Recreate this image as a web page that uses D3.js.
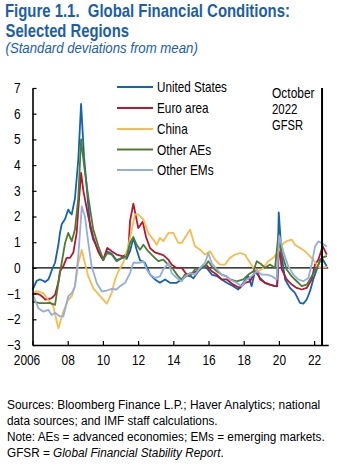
<!DOCTYPE html>
<html><head><meta charset="utf-8">
<script src="https://cdn.jsdelivr.net/npm/d3@7"></script>
<style>
html,body{margin:0;padding:0;background:#fff;}
svg{display:block;font-family:'Liberation Sans Narrow','Arial Narrow','Liberation Sans',Arial,sans-serif;}
</style></head><body>
<svg id="c" width="337" height="468"></svg>
<script>
const seriesNames = ["United States", "Euro area", "China", "Other AEs", "Other EMs"];
const seriesColors = ["#1363b3", "#b5182f", "#f8bb4c", "#4e7d31", "#93addf"];

const usDates = [2006.00,2006.24,2006.43,2006.61,2006.71,2006.90,2006.99,2007.09,2007.28,2007.47,2007.56,2007.66,2007.85,2008.03,2008.13,2008.23,2008.41,2008.60,2008.76,2008.93,2009.10,2009.27,2009.45,2009.55,2009.84,2010.02,2010.22,2010.50,2010.78,2011.16,2011.35,2011.54,2011.73,2011.92,2012.11,2012.39,2012.68,2012.96,2013.24,2013.53,2013.81,2014.19,2014.57,2014.85,2015.14,2015.42,2015.70,2015.90,2016.18,2016.47,2016.75,2017.03,2017.41,2017.69,2017.98,2018.26,2018.45,2018.64,2018.93,2019.21,2019.49,2019.78,2019.90,2019.99,2020.16,2020.35,2020.63,2020.91,2021.20,2021.39,2021.58,2021.77,2021.95,2022.15,2022.34,2022.43,2022.52,2022.72];
const usValues = [-0.85,-0.5,-0.45,-0.5,-0.55,-0.45,-0.3,-0.1,0.2,0.9,1.36,1.7,1.9,2.27,2.15,2.08,2.7,4.2,6.38,4.3,3.0,1.6,1.1,0.97,0.5,0.3,0.65,0.55,0.3,0.4,0.35,0.65,1.17,0.7,0.3,0.2,-0.26,-0.45,-0.58,-0.45,-0.58,-0.58,-0.4,-0.26,-0.4,-0.13,0.06,0.0,-0.26,-0.32,-0.45,-0.58,-0.71,-0.84,-0.58,-0.32,-0.71,-0.13,-0.39,-0.58,-0.65,-0.71,-0.7,2.16,0.45,-0.45,-0.78,-0.97,-1.36,-1.39,-1.23,-0.9,-0.45,-0.06,0.32,0.35,0.3,0.06];

const euDates = [2006.00,2006.24,2006.43,2006.61,2006.71,2006.99,2007.09,2007.28,2007.47,2007.56,2007.75,2007.94,2008.13,2008.32,2008.51,2008.60,2008.76,2008.89,2009.17,2009.45,2009.74,2010.02,2010.25,2010.50,2010.78,2011.16,2011.44,2011.54,2011.73,2012.01,2012.26,2012.45,2012.68,2012.96,2013.43,2013.72,2013.91,2014.19,2014.48,2014.76,2015.05,2015.33,2015.61,2015.90,2016.18,2016.47,2016.75,2017.03,2017.41,2017.79,2018.07,2018.36,2018.64,2018.74,2018.93,2019.21,2019.49,2019.78,2019.90,2020.02,2020.16,2020.44,2020.73,2021.01,2021.30,2021.58,2021.86,2022.05,2022.24,2022.49,2022.72];
const euValues = [-1.0,-1.0,-1.05,-1.15,-1.23,-1.2,-1.17,-1.05,-0.55,-0.13,0.06,0.39,0.39,0.6,1.36,2.27,3.7,3.0,2.0,1.2,0.63,0.32,0.78,0.65,0.52,0.45,0.58,1.82,2.5,1.55,1.8,1.2,0.77,0.6,0.5,0.32,0.12,0.0,0.0,-0.26,-0.2,-0.13,0.03,0.1,-0.13,-0.26,-0.45,-0.45,-0.65,-0.78,-0.58,-0.52,-0.15,-0.07,-0.45,-0.58,-0.65,-0.71,-0.72,0.92,-0.06,-0.45,-0.65,-0.78,-0.84,-0.78,-0.45,0.13,0.32,0.84,0.52];

const cnDates = [2006.00,2006.24,2006.61,2006.90,2007.18,2007.47,2007.75,2008.03,2008.23,2008.41,2008.60,2008.80,2008.98,2009.17,2009.45,2009.84,2010.22,2010.50,2010.69,2010.88,2011.16,2011.44,2011.64,2011.82,2012.01,2012.30,2012.58,2012.86,2013.06,2013.24,2013.43,2013.72,2014.00,2014.28,2014.48,2014.66,2014.95,2015.23,2015.52,2015.80,2016.09,2016.37,2016.65,2016.94,2017.22,2017.51,2017.79,2018.07,2018.36,2018.55,2018.83,2019.11,2019.40,2019.68,2019.97,2020.25,2020.44,2020.73,2020.91,2021.20,2021.48,2021.67,2021.95,2022.15,2022.34,2022.52,2022.72];
const cnValues = [-0.98,-0.9,-0.98,-1.25,-1.5,-2.35,-1.7,-1.24,-1.1,-0.72,0.18,0.7,0.18,-0.33,-0.79,-1.1,-1.39,-0.97,-0.45,-0.13,0.2,0.84,1.5,2.08,2.08,1.88,1.36,1.1,0.9,1.17,1.04,1.36,1.36,0.97,0.97,1.17,1.49,0.84,0.71,0.52,0.65,0.32,0.13,0.13,0.39,0.52,0.58,0.52,0.2,0.0,-0.13,0.0,0.26,0.39,0.65,0.96,1.04,1.1,0.9,0.77,0.65,0.52,0.32,0.13,0.0,0.03,0.03];

const aeDates = [2006.00,2006.43,2006.81,2006.99,2007.28,2007.47,2007.66,2007.85,2008.03,2008.23,2008.41,2008.60,2008.76,2008.93,2009.10,2009.27,2009.45,2009.74,2010.02,2010.25,2010.50,2010.78,2011.07,2011.35,2011.54,2011.73,2011.92,2012.11,2012.30,2012.58,2012.86,2013.15,2013.43,2013.72,2014.00,2014.28,2014.48,2014.66,2014.95,2015.23,2015.52,2015.80,2015.99,2016.18,2016.47,2016.75,2017.03,2017.22,2017.60,2017.98,2018.26,2018.55,2018.74,2019.02,2019.21,2019.49,2019.78,2019.97,2020.16,2020.44,2020.73,2021.01,2021.30,2021.58,2021.86,2022.15,2022.43,2022.72];
const aeValues = [-1.31,-1.37,-1.37,-1.36,-1.44,-0.58,0.2,0.97,1.36,1.04,1.49,2.7,5.0,4.0,3.1,2.3,1.5,0.85,0.32,0.58,0.52,0.26,0.39,0.45,0.97,1.2,0.9,0.71,0.9,0.64,0.45,0.26,0.32,0.12,-0.06,-0.33,-0.45,-0.26,-0.33,-0.06,0.0,0.06,0.26,0.06,-0.13,-0.26,-0.33,-0.45,-0.52,-0.45,-0.26,-0.13,0.26,0.13,0.0,0.13,0.0,1.3,0.58,-0.06,-0.33,-0.52,-0.71,-0.65,-0.33,0.0,0.38,0.47];

const emDates = [2006.00,2006.33,2006.61,2006.90,2007.09,2007.28,2007.56,2007.75,2008.03,2008.23,2008.41,2008.60,2008.80,2008.98,2009.17,2009.36,2009.65,2009.93,2010.22,2010.50,2010.78,2010.97,2011.26,2011.54,2011.73,2012.11,2012.30,2012.49,2012.68,2012.96,2013.24,2013.43,2013.72,2013.91,2014.19,2014.48,2014.66,2014.95,2015.23,2015.52,2015.80,2015.99,2016.18,2016.47,2016.75,2017.03,2017.22,2017.60,2017.89,2018.17,2018.45,2018.74,2019.02,2019.31,2019.59,2019.88,2020.02,2020.25,2020.53,2020.82,2021.10,2021.39,2021.67,2021.86,2022.05,2022.24,2022.43,2022.72];
const emValues = [-1.0,-1.57,-1.7,-1.63,-1.83,-1.74,-1.89,-1.89,-1.11,-0.98,-0.72,0.45,2.39,2.0,0.97,0.06,-0.59,-0.91,-0.88,-0.82,-0.84,-0.71,-0.58,-0.2,0.2,0.2,0.26,-0.06,-0.26,-0.39,-0.33,-0.06,0.18,-0.2,-0.39,-0.52,-0.33,-0.2,-0.26,0.0,0.2,0.57,0.19,-0.06,-0.26,-0.33,-0.45,-0.58,-0.71,-0.45,-0.32,-0.13,-0.26,-0.26,-0.32,-0.45,1.25,0.64,0.06,-0.26,-0.45,-0.52,-0.39,0.13,0.83,1.03,0.97,0.83];

const xTickValues = [2006, 2008, 2010, 2012, 2014, 2016, 2018, 2020, 2022];
const xTickLabels = ["2006", "08", "10", "12", "14", "16", "18", "20", "22"];
const yTickValues = [-3, -2, -1, 0, 1, 2, 3, 4, 5, 6, 7];
const gfsrLineYear = 2022.45;
const gfsrLabel = ["October", "2022", "GFSR"];

const titleLines = ["Figure 1.1.  Global Financial Conditions:", "Selected Regions"];
const subtitle = "(Standard deviations from mean)";
const footLines = ["Sources: Bloomberg Finance L.P.; Haver Analytics; national",
  "data sources; and IMF staff calculations.",
  "Note: AEs = advanced economies; EMs = emerging markets."];

const seriesDates = [usDates, euDates, cnDates, aeDates, emDates];
const seriesValues = [usValues, euValues, cnValues, aeValues, emValues];

const svg = d3.select("#c");
const x = d3.scaleLinear().domain([2006, 2022.8]).range([32.5, 328.2]);
const y = d3.scaleLinear().domain([-3, 7]).range([345, 88]);

// Draws text at (tx,ty) condensed horizontally to the given width (narrow-font look)
function narrowText(tx, ty, size, width, build) {
  const g = svg.append("g").attr("transform", `translate(${tx},${ty})`);
  const t = g.append("text").attr("font-size", size);
  build(t);
  const L = t.node().getComputedTextLength();
  const s = width / L;
  g.attr("transform", `translate(${tx},${ty}) scale(${s},1)`);
  return t;
}

const titleColor = "#1a5eab";
narrowText(5, 17, 18.5, 285, t => t.attr("fill", titleColor).attr("font-weight", "bold").attr("xml:space", "preserve").text(titleLines[0]));
narrowText(5.5, 36.5, 18.5, 123.5, t => t.attr("fill", titleColor).attr("font-weight", "bold").text(titleLines[1]));
narrowText(5.5, 53, 14.5, 192.5, t => t.attr("fill", titleColor).attr("font-style", "italic").text(subtitle));

// zero line
svg.append("line").attr("x1", x(2006)).attr("x2", 328.2).attr("y1", y(0)).attr("y2", y(0))
  .attr("stroke", "#000").attr("stroke-width", 1.4);

// series
const line = d3.line().x(d => x(d[0])).y(d => y(d[1]));
seriesNames.forEach((n, i) => {
  const pts = seriesDates[i].map((d, j) => [d, seriesValues[i][j]]);
  svg.append("path").datum(pts).attr("d", line).attr("fill", "none")
    .attr("stroke", seriesColors[i]).attr("stroke-width", 1.8).attr("stroke-linejoin", "round");
});

const axisScale = 0.85;
// axes
const xAxis = d3.axisBottom(x).tickValues(xTickValues).tickSize(-4).tickSizeOuter(0).tickPadding(10)
  .tickFormat((d, i) => xTickLabels[i]);
const gx = svg.append("g").attr("transform", `translate(0,${y(-3)})`).call(xAxis);
gx.select(".domain").attr("stroke", "#000").attr("stroke-width", 1.6);
gx.selectAll(".tick line").attr("stroke", "#000").attr("stroke-width", 1.2);
gx.selectAll(".tick text").attr("font-size", 14).attr("fill", "#000")
  .attr("font-family", "'Liberation Sans Narrow','Arial Narrow','Liberation Sans',Arial,sans-serif")
  .attr("transform", `scale(${axisScale},1)`)
  .attr("x", d => d === 2006 ? -6 / axisScale : 0);

const yAxis = d3.axisLeft(y).tickValues(yTickValues).tickSize(-4).tickSizeOuter(0).tickPadding(12)
  .tickFormat(d => d < 0 ? "\u2212" + Math.abs(d) : String(d));
const gy = svg.append("g").attr("transform", `translate(${x(2006)},0)`).call(yAxis);
gy.select(".domain").attr("stroke", "#000").attr("stroke-width", 1.6);
gy.selectAll(".tick line").attr("stroke", "#000").attr("stroke-width", 1.2);
gy.selectAll(".tick text").attr("font-size", 14).attr("fill", "#000")
  .attr("font-family", "'Liberation Sans Narrow','Arial Narrow','Liberation Sans',Arial,sans-serif")
  .attr("transform", `scale(${axisScale},1)`)
  .attr("x", -12 / axisScale);

// GFSR vertical line
svg.append("line").attr("x1", x(gfsrLineYear)).attr("x2", x(gfsrLineYear)).attr("y1", y(7)).attr("y2", y(-3))
  .attr("stroke", "#000").attr("stroke-width", 2);
const gfsrW = [42.7, 25.5, 31];
gfsrLabel.forEach((t, i) => {
  narrowText(272, 97.5 + i * 16, 14, gfsrW[i], s => s.attr("fill", "#000").text(t));
});

// legend
const legendRowY = [87, 108, 129, 149.5, 170];
const legendW = [70, 51.7, 30.7, 54.3, 56.7];
seriesNames.forEach((n, i) => {
  svg.append("line").attr("x1", 117).attr("x2", 153).attr("y1", legendRowY[i]).attr("y2", legendRowY[i])
    .attr("stroke", seriesColors[i]).attr("stroke-width", 2);
  narrowText(157, legendRowY[i] + 5, 14, legendW[i], t => t.attr("fill", "#000").text(n));
});

// footnotes
const footW = [313.5, 211, 318];
footLines.forEach((t, i) => {
  narrowText(7, 408.5 + i * 16, 13.5, footW[i], s => s.attr("fill", "#000").text(t));
});
narrowText(7, 456.5, 13.5, 217, f4 => {
  f4.attr("fill", "#000");
  f4.append("tspan").text("GFSR = ");
  f4.append("tspan").attr("font-style", "italic").text("Global Financial Stability Report");
  f4.append("tspan").text(".");
});
</script>
</body></html>
